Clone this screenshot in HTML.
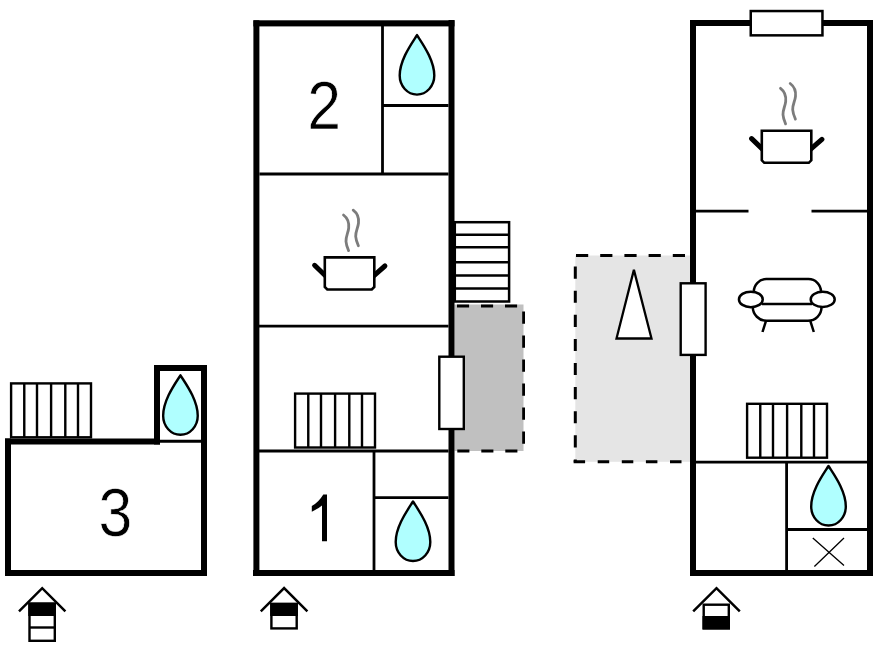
<!DOCTYPE html>
<html><head><meta charset="utf-8">
<style>
html,body{margin:0;padding:0;background:#fff;width:873px;height:652px;overflow:hidden}
svg{display:block}
text{font-family:"Liberation Sans",sans-serif;fill:#000}
</style></head>
<body>
<svg width="873" height="652" viewBox="0 0 873 652">

<!-- ================= Building A (left, "3") ================= -->
<g id="A">
  <g transform="translate(11.1,383.4)" fill="none" stroke="#000" stroke-width="2.4"><rect x="0" y="0" width="79.9" height="53.9"/><path d="M13.17,0V53.9M25.9,0V53.9M40,0V53.9M54.2,0V53.9M66.9,0V53.9"/></g>
  <g fill="#000">
    <rect x="5" y="438.5" width="155" height="6"/>
    <rect x="5" y="438.5" width="6" height="137.5"/>
    <rect x="5" y="570" width="202" height="6"/>
    <rect x="154" y="365" width="6" height="79.5"/>
    <rect x="154" y="365" width="53" height="6"/>
    <rect x="201" y="365" width="6" height="211"/>
  </g>
  <path d="M160,441.3H201" stroke="#000" stroke-width="2.9"/>
  <path transform="translate(180.45,375.3)" d="M0,0 C5,8 17.3,24.5 17.3,40.5 A17.3,19 0 0 1 -17.3,40.5 C-17.3,24.5 -5,8 0,0 Z" fill="#b0ffff" stroke="#000" stroke-width="2.4" stroke-linejoin="round"/>
  <g transform="translate(115.3,535.7) scale(0.885,1)"><text x="0" y="0" font-size="68.6" text-anchor="middle" stroke="#fff" stroke-width="0.7">3</text></g>
  <!-- entrance icon -->
  <g fill="none" stroke="#000" stroke-width="2.4">
    <path d="M19,611.3 L42.2,588.2 L65.4,611.3" stroke-width="2.5"/>
    <rect x="29.5" y="603.7" width="25.3" height="37.1" fill="#fff"/>
    <rect x="29.5" y="603.7" width="25.3" height="11.1" fill="#000"/>
    <path d="M29.5,627.5H54.8"/>
  </g>
</g>

<!-- ================= Building B (middle) ================= -->
<g id="B">
  <!-- dark gray dashed area -->
  <rect x="454.5" y="304.5" width="69" height="146.5" fill="#c0c0c0"/>
  <g stroke="#000" stroke-width="2.8" fill="none">
    <path d="M457,306H524" stroke-dasharray="12.1 11.9"/>
    <path d="M523.6,311.5V451" stroke-dasharray="12.2 11.8"/>
    <path d="M457.3,451H524" stroke-dasharray="12.1 11.9"/>
  </g>
  <!-- external stairs -->
  <g fill="none" stroke="#000" stroke-width="2.5">
    <rect x="454.8" y="222.2" width="54.3" height="79.3"/>
    <path d="M455,234.8H509M455,247.2H509M455,262.2H509M455,275.6H509M455,288.5H509"/>
  </g>
  <g fill="#000">
    <rect x="253.4" y="20.3" width="6" height="555.7"/>
    <rect x="253.4" y="20.3" width="201.1" height="6.1"/>
    <rect x="448.5" y="20" width="6" height="556"/>
    <rect x="253" y="570" width="201.5" height="6"/>
  </g>
  <g stroke="#000" stroke-width="2.8" fill="none">
    <path d="M382.5,26V174"/>
    <path d="M383,105.5H448.5"/>
    <path d="M259.4,174H448.5"/>
    <path d="M259,326.2H448.5"/>
    <path d="M259,451H448.5"/>
    <path d="M374,451V570"/>
    <path d="M375,497.7H448.5"/>
  </g>
  <path transform="translate(417,35.1)" d="M0,0 C5,8 17.3,24.5 17.3,40.5 A17.3,19 0 0 1 -17.3,40.5 C-17.3,24.5 -5,8 0,0 Z" fill="#b0ffff" stroke="#000" stroke-width="2.4" stroke-linejoin="round"/>
  <path transform="translate(413,501.5)" d="M0,0 C5,8 17.3,24.5 17.3,40.5 A17.3,19 0 0 1 -17.3,40.5 C-17.3,24.5 -5,8 0,0 Z" fill="#b0ffff" stroke="#000" stroke-width="2.4" stroke-linejoin="round"/>
  <g transform="translate(324.1,129.2) scale(0.885,1)"><text x="0" y="0" font-size="68.6" text-anchor="middle" stroke="#fff" stroke-width="0.7">2</text></g>
  <path d="M327,494.4 L327,541.2 L322,541.2 L322,505.5 C319,508 315,510 311.8,511.7 L311.8,505.9 C316,503.5 320.5,499.5 323.3,494.4 Z" fill="#000"/>
  <!-- pot -->
  <g>
    <path d="M343.5,215 C347.5,218 349.2,223 348.7,228 C348.2,233 345.8,236 346,241.5 C346.2,245 347.5,248 348.6,250.6" fill="none" stroke="#7c7c7c" stroke-width="2.8" stroke-linecap="round"/>
    <path d="M353.2,210.2 C357.2,213.2 359,218 358.5,223 C358,228 355.5,231 355.7,236.5 C355.9,240 357.2,243 358.4,245.8" fill="none" stroke="#7c7c7c" stroke-width="2.8" stroke-linecap="round"/>
    <path d="M314.6,265.3 L327,277.3 M372,277.3 L384.9,266" stroke="#000" stroke-width="5" stroke-linecap="round"/>
    <path d="M324.8,257.4H374.3V287 L371.8,289.5H327.3 L324.8,287Z" fill="#fff" stroke="#000" stroke-width="2.6"/>
  </g>
  <!-- interior stairs -->
  <g transform="translate(295.1,393.6)" fill="none" stroke="#000" stroke-width="2.4"><rect x="0" y="0" width="79.9" height="53.9"/><path d="M13.17,0V53.9M25.9,0V53.9M40,0V53.9M54.2,0V53.9M66.9,0V53.9"/></g>
  <!-- door -->
  <rect x="439.3" y="356.7" width="24.5" height="72.3" fill="#fff" stroke="#000" stroke-width="2.4"/>
  <!-- entrance icon -->
  <g fill="none" stroke="#000" stroke-width="2.4">
    <path d="M260.8,611.3 L284.1,588.1 L307.4,611.3" stroke-width="2.5"/>
    <rect x="271.4" y="604" width="25.3" height="24.4" fill="#fff"/>
    <rect x="271.4" y="604" width="25.3" height="10.8" fill="#000"/>
  </g>
</g>

<!-- ================= Building C (right) ================= -->
<g id="C">
  <!-- light gray dashed area -->
  <rect x="575.3" y="255.5" width="114.7" height="206.3" fill="#e5e5e5"/>
  <g stroke="#000" stroke-width="3" fill="none">
    <path d="M576,255.5H690" stroke-dasharray="12.2 12"/>
    <path d="M575.3,266.6V462" stroke-dasharray="12.1 12"/>
    <path d="M573.6,461.8H690" stroke-dasharray="11.5 12.6"/>
  </g>
  <path d="M633.9,269.9 L616.5,338.5 H651.5 Z" fill="#fff" stroke="#000" stroke-width="2.3" stroke-linejoin="miter"/>
  <g fill="#000">
    <rect x="690" y="20" width="6" height="556"/>
    <rect x="690" y="20" width="183" height="6"/>
    <rect x="867" y="20" width="6" height="556"/>
    <rect x="690" y="570" width="183" height="6"/>
  </g>
  <rect x="750.75" y="11.05" width="71.7" height="24.3" fill="#fff" stroke="#000" stroke-width="2.5"/>
  <g stroke="#000" stroke-width="2.8" fill="none">
    <path d="M696,211.2H748.5M811.5,211.2H867"/>
  </g>
  <g stroke="#000" stroke-width="2.8" fill="none">
    <path d="M696,462.1H867"/>
    <path d="M786.6,462V570"/>
    <path d="M787,529.5H867"/>
  </g>
  <path d="M812.8,538L844,565.5M844,538L814.4,566.5" stroke="#000" stroke-width="1.3"/>
  <rect x="680.7" y="283.3" width="24.9" height="71.6" fill="#fff" stroke="#000" stroke-width="2.4"/>
  <!-- pot -->
  <g transform="translate(437,-126.7)">
    <path d="M343.5,215 C347.5,218 349.2,223 348.7,228 C348.2,233 345.8,236 346,241.5 C346.2,245 347.5,248 348.6,250.6" fill="none" stroke="#7c7c7c" stroke-width="2.8" stroke-linecap="round"/>
    <path d="M353.2,210.2 C357.2,213.2 359,218 358.5,223 C358,228 355.5,231 355.7,236.5 C355.9,240 357.2,243 358.4,245.8" fill="none" stroke="#7c7c7c" stroke-width="2.8" stroke-linecap="round"/>
    <path d="M314.6,265.3 L327,277.3 M372,277.3 L384.9,266" stroke="#000" stroke-width="5" stroke-linecap="round"/>
    <path d="M324.8,257.4H374.3V287 L371.8,289.5H327.3 L324.8,287Z" fill="#fff" stroke="#000" stroke-width="2.6"/>
  </g>
  <!-- sofa -->
  <g fill="none" stroke="#000" stroke-width="2.5">
    <path d="M753.8,293 L753.8,291.6 A12.5,12.5 0 0 1 766.3,279.1 L808.5,279.1 A12.5,12.5 0 0 1 821,291.6 L821,293"/>
    <path d="M752.8,306 L752.8,307 A13.8,13.8 0 0 0 766.6,320.8 L808,320.8 A13.5,13.5 0 0 0 821.5,307.3 L821.5,306"/>
    <path d="M762,303.9 L812,303.9"/>
    <path d="M766,320.8 L762.5,332 M810.3,320.8 L813.8,332"/>
    <ellipse cx="750.85" cy="299.4" rx="11.9" ry="7.75" fill="#fff"/>
    <ellipse cx="822.7" cy="299.4" rx="12" ry="7.6" fill="#fff"/>
  </g>
  <g transform="translate(747.1,403.8)" fill="none" stroke="#000" stroke-width="2.4"><rect x="0" y="0" width="79.9" height="53.9"/><path d="M13.17,0V53.9M25.9,0V53.9M40,0V53.9M54.2,0V53.9M66.9,0V53.9"/></g>
  <path transform="translate(828.5,466)" d="M0,0 C5,8 17.3,24.5 17.3,40.5 A17.3,19 0 0 1 -17.3,40.5 C-17.3,24.5 -5,8 0,0 Z" fill="#b0ffff" stroke="#000" stroke-width="2.4" stroke-linejoin="round"/>
  <!-- entrance icon -->
  <g fill="none" stroke="#000" stroke-width="2.4">
    <path d="M693.2,611.4 L716.5,588.2 L739.8,611.4" stroke-width="2.5"/>
    <rect x="703.7" y="604.7" width="25.1" height="23.6" fill="#fff"/>
    <rect x="703.7" y="617.2" width="25.1" height="11.1" fill="#000"/>
  </g>
</g>
</svg>
</body></html>
